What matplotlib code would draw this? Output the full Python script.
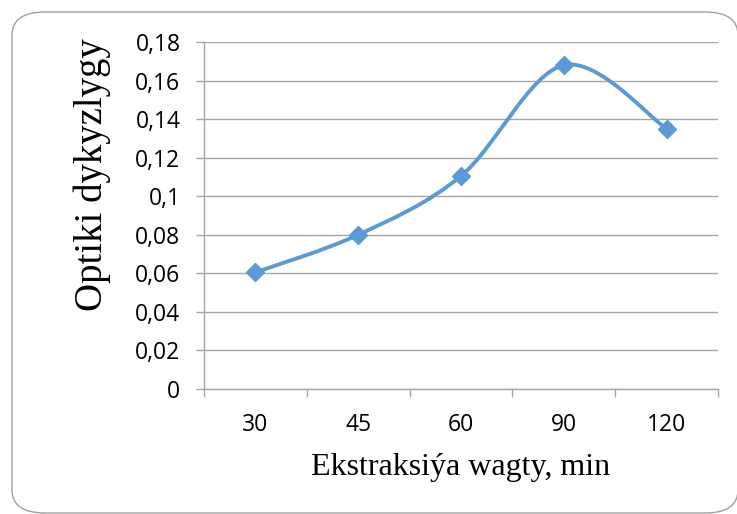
import numpy as np
import matplotlib
matplotlib.use('Agg')
import matplotlib.pyplot as plt
from matplotlib.path import Path
from matplotlib.patches import PathPatch, FancyBboxPatch

times = ['30', '45', '60', '90', '120']
density = [0.0605, 0.080, 0.1105, 0.168, 0.135]
yticks = [0, 0.02, 0.04, 0.06, 0.08, 0.1, 0.12, 0.14, 0.16, 0.18]
ylabels = ['0', '0,02', '0,04', '0,06', '0,08', '0,1', '0,12', '0,14', '0,16', '0,18']

blue = '#5b9bd5'
grid = '#a6a6a6'
tick_font = 'Open Sans'
label_font = 'Liberation Serif'

fig = plt.figure(figsize=(7.37, 5.14), dpi=100)
ax = fig.add_axes([204/737, 1 - 389/514, (718 - 204)/737, (389 - 42)/514])

# rounded frame round the chart (Excel chart area)
frame = FancyBboxPatch((12/737, 1 - 513/514), (738 - 12)/737, (513 - 12)/514,
                       boxstyle='round,pad=0,rounding_size=0.045',
                       transform=fig.transFigure, facecolor='none',
                       edgecolor='#a0a0a0', linewidth=1.0, zorder=0)
fig.patches.append(frame)

# smoothed line like Excel (Catmull-Rom as cubic Bezier)
x = np.arange(len(times), dtype=float)
y = np.array(density)
pts = np.column_stack([x, y])
ext = np.vstack([pts[0], pts, pts[-1]])
verts = [tuple(pts[0])]
codes = [Path.MOVETO]
for i in range(len(pts) - 1):
    p0, p1, p2, p3 = ext[i], ext[i + 1], ext[i + 2], ext[i + 3]
    c1 = p1 + (p2 - p0) / 6
    c2 = p2 - (p3 - p1) / 6
    verts += [tuple(c1), tuple(c2), tuple(p2)]
    codes += [Path.CURVE4] * 3
ax.add_patch(PathPatch(Path(verts, codes), facecolor='none', edgecolor=blue,
                       linewidth=2.8, capstyle='round', zorder=3))
ax.plot(x, y, linestyle='none', marker='D', markersize=9, color=blue, zorder=4)

ax.set_xlim(-0.5, len(times) - 0.5)
ax.set_ylim(0, 0.18)
ax.set_yticks(yticks)
ax.set_yticklabels(ylabels, fontfamily=tick_font, fontsize=16.5)
ax.yaxis.grid(True, color=grid, linewidth=1.0)
ax.set_axisbelow(True)

ax.set_xticks(np.arange(-0.5, len(times), 1.0))
ax.set_xticklabels([])
ax.set_xticks(x, minor=True)
ax.set_xticklabels(times, minor=True, fontfamily=tick_font, fontsize=16.5)
ax.tick_params(axis='x', which='major', length=6, color=grid, width=1.0)
ax.tick_params(axis='x', which='minor', length=0, pad=17)
ax.tick_params(axis='y', length=6, color=grid, width=1.0, pad=11)

for s in ['top', 'right']:
    ax.spines[s].set_visible(False)
for s in ['left', 'bottom']:
    ax.spines[s].set_color(grid)
    ax.spines[s].set_linewidth(1.0)

fig.text(461/737, 1 - 467/514, 'Ekstraksiýa wagty, min', fontfamily=label_font,
         fontsize=23, ha='center', va='center')
fig.text(92/737, 1 - 175/514, 'Optiki dykyzlygy', fontfamily=label_font,
         fontsize=28, rotation=90, ha='center', va='center')

fig.savefig('out.png', dpi=100)
